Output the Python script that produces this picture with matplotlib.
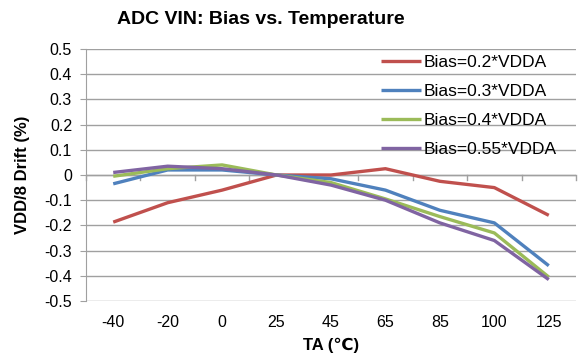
import matplotlib
matplotlib.use("Agg")
import matplotlib.pyplot as plt
import numpy as np

plt.rcParams['font.family'] = ['Liberation Sans', 'DejaVu Sans']

categories = ['-40', '-20', '0', '25', '45', '65', '85', '100', '125']
bias_02 = [-0.187, -0.11, -0.06, 0.0, 0.0, 0.025, -0.025, -0.05, -0.16]
bias_03 = [-0.035, 0.02, 0.02, 0.0, -0.015, -0.06, -0.14, -0.19, -0.36]
bias_04 = [-0.005, 0.025, 0.04, 0.0, -0.03, -0.095, -0.165, -0.23, -0.405]
bias_055 = [0.01, 0.035, 0.025, 0.0, -0.04, -0.10, -0.19, -0.26, -0.415]
labels = ['Bias=0.2*VDDA', 'Bias=0.3*VDDA', 'Bias=0.4*VDDA', 'Bias=0.55*VDDA']
colors = ['#C0504D', '#4F81BD', '#9BBB59', '#8064A2']
yticks = [0.5, 0.4, 0.3, 0.2, 0.1, 0, -0.1, -0.2, -0.3, -0.4, -0.5]
ytick_labels = ['0.5', '0.4', '0.3', '0.2', '0.1', '0', '-0.1', '-0.2', '-0.3', '-0.4', '-0.5']

fig = plt.figure(figsize=(5.8, 3.58), dpi=100)
ax = fig.add_axes([86/580, 1-301/358, 490/580, 252/358])

x = np.arange(len(categories))
for s, lab, c in zip([bias_02, bias_03, bias_04, bias_055], labels, colors):
    ax.plot(x, s, color=c, lw=2.4, label=lab, solid_capstyle='butt')

ax.set_xlim(-0.5, len(categories) - 0.5)
ax.set_ylim(-0.5, 0.5)
ax.set_yticks(yticks)
ax.set_yticklabels(ytick_labels)
ax.grid(axis='y', color='#A0A0A0', lw=1)
ax.set_axisbelow(True)
for sp in ['top', 'right', 'bottom']:
    ax.spines[sp].set_visible(False)
ax.spines['left'].set_color('#A0A0A0')
ax.tick_params(axis='y', length=4, color='#A0A0A0', labelsize=11.5, pad=6)
ax.set_xticks(x)
ax.set_xticklabels(categories)
ax.tick_params(axis='x', length=0, labelsize=11.5, pad=10)

# zero line with tick marks at category boundaries
ax.axhline(0, color='#A0A0A0', lw=1, zorder=1)
for b in np.arange(-0.5, len(categories) + 0.5, 1.0):
    ax.plot([b, b], [0, -0.02], color='#A0A0A0', lw=1, zorder=1, clip_on=False)

ax.set_xlabel('TA (\u2103)', fontsize=12, fontweight='bold', labelpad=6)
ax.set_ylabel('VDD/8 Drift (%)', fontsize=12, fontweight='bold', labelpad=10)
fig.text(261/580, 1-20/358, 'ADC VIN: Bias vs. Temperature', ha='center', va='center',
         fontsize=14, fontweight='bold')

leg = ax.legend(loc='upper left', frameon=False, fontsize=12.5, handlelength=2.3,
                handletextpad=0.15, labelspacing=0.8, borderpad=0, borderaxespad=0,
                bbox_to_anchor=(381/580, 1-55/358), bbox_transform=fig.transFigure)

fig.savefig('out.png', dpi=100)
